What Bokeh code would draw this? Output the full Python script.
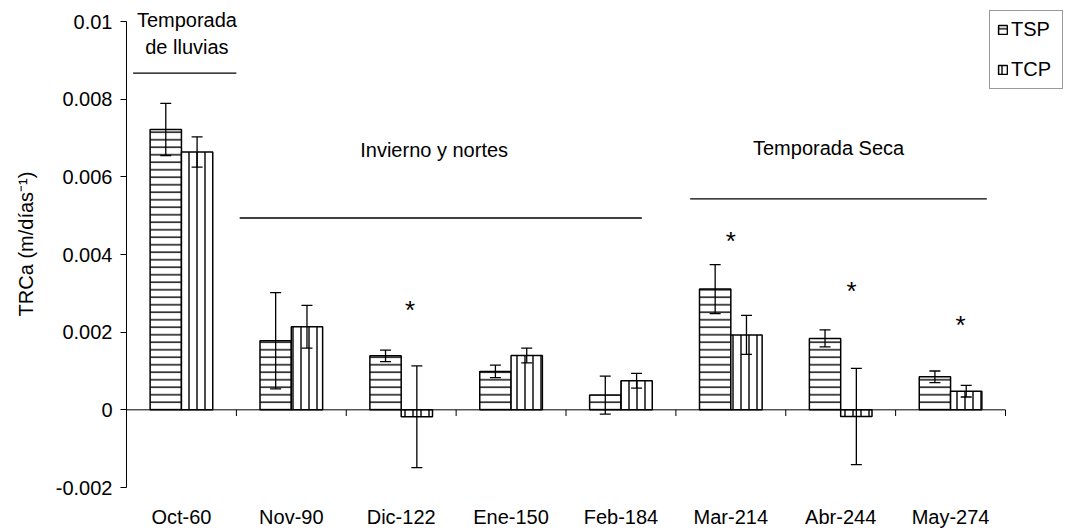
import numpy as np
from bokeh.plotting import figure
from bokeh.models import (ColumnDataSource, Range1d, FixedTicker, Whisker, TeeHead,
                          Legend, LegendItem)
from bokeh.core.properties import value
from bokeh.embed import file_html
from bokeh.resources import INLINE

# ---------------- data ----------------
categories = ["Oct-60", "Nov-90", "Dic-122", "Ene-150", "Feb-184", "Mar-214", "Abr-244", "May-274"]
tsp = [0.00722, 0.00178, 0.00139, 0.00099, 0.00038, 0.00311, 0.00184, 0.00085]
tsp_err = [0.00067, 0.00124, 0.00015, 0.00016, 0.00049, 0.00063, 0.00022, 0.00015]
tcp = [0.00664, 0.00214, -0.00018, 0.00140, 0.00075, 0.00193, -0.00017, 0.00048]
tcp_err = [0.00039, 0.00055, 0.00131, 0.00019, 0.00019, 0.00050, 0.00124, 0.00015]

y_ticks = [-0.002, 0.0, 0.002, 0.004, 0.006, 0.008, 0.01]
y_tick_labels = ["-0.002", "0", "0.002", "0.004", "0.006", "0.008", "0.01"]

season_texts = ["Temporada", "de lluvias", "Invierno y nortes", "Temporada Seca"]
season_text_x = [0.55, 0.55, 2.80, 6.39]
season_text_y = [0.010040, 0.009345, 0.006695, 0.006740]
season_line_x0 = [0.06, 1.03, 5.13]
season_line_x1 = [1.00, 4.69, 7.83]
season_line_y = [0.00867, 0.00494, 0.00543]

star_categories = ["Dic-122", "Mar-214", "Abr-244", "May-274"]
star_offset = [0.08, 0.0, 0.10, 0.09]
star_y = [0.00258, 0.00435, 0.00306, 0.00219]

# ---------------- figure ----------------
FONT = "Liberation Sans"
FS = "20px"
n = len(categories)
bar_w = 0.285
centers = np.arange(n) + 0.5
bounds = np.arange(n + 1)

# frame runs to the right/top edges so the legend is not clipped;
# the category axis itself spans 0..n (879 px of a 940 px frame)
x_end = n * 940 / 879
y_end = y_ticks[-1] + 21 * (y_ticks[-1] - y_ticks[0]) / 466

p = figure(width=1066, height=531, output_backend="svg", toolbar_location=None,
           x_range=Range1d(0, x_end), y_range=Range1d(y_ticks[0], y_end),
           min_border_left=126, min_border_right=0, min_border_top=0, min_border_bottom=44)
p.outline_line_color = None
p.xgrid.visible = False
p.ygrid.visible = False
p.background_fill_color = "white"
p.border_fill_color = "white"

src_tsp = ColumnDataSource(dict(x=centers - bar_w / 2, top=tsp,
                                upper=np.array(tsp) + np.array(tsp_err),
                                lower=np.array(tsp) - np.array(tsp_err)))
src_tcp = ColumnDataSource(dict(x=centers + bar_w / 2, top=tcp,
                                upper=np.array(tcp) + np.array(tcp_err),
                                lower=np.array(tcp) - np.array(tcp_err)))

r_tsp = p.vbar(x="x", top="top", bottom=0, width=bar_w, source=src_tsp,
               fill_color="white", line_color="black", line_width=1.5,
               hatch_pattern="horizontal_line", hatch_scale=7.5, hatch_weight=1.4,
               hatch_color="black")
r_tcp = p.vbar(x="x", top="top", bottom=0, width=bar_w, source=src_tcp,
               fill_color="white", line_color="black", line_width=1.5,
               hatch_pattern="vertical_line", hatch_scale=8, hatch_weight=1.4,
               hatch_color="black")

# zero line (category axis) and category boundary ticks
p.segment(x0=[bounds[0]], x1=[bounds[-1]], y0=[0], y1=[0], line_color="black", line_width=1)
p.segment(x0=bounds, x1=bounds, y0=0, y1=-0.00016, line_color="black", line_width=1)

for src in (src_tsp, src_tcp):
    w = Whisker(source=src, base="x", upper="upper", lower="lower",
                line_color="black", line_width=1.3, level="annotation",
                upper_head=TeeHead(size=11, line_color="black", line_width=1.3),
                lower_head=TeeHead(size=11, line_color="black", line_width=1.3))
    p.add_layout(w)

# season annotations
p.segment(x0=season_line_x0, x1=season_line_x1, y0=season_line_y, y1=season_line_y,
          line_color="black", line_width=1.3)
p.text(x=season_text_x, y=season_text_y, text=season_texts, text_align="center",
       text_baseline="alphabetic", text_font=value(FONT), text_font_size=FS,
       text_color="black")

# significance stars
star_x = [categories.index(c) + 0.5 + o for c, o in zip(star_categories, star_offset)]
p.text(x=star_x, y=star_y, text=["*"] * len(star_x), text_align="center",
       text_baseline="alphabetic", text_font=value(FONT), text_font_size="26px",
       text_color="black")

# axes
p.yaxis.ticker = FixedTicker(ticks=y_ticks)
p.yaxis.bounds = (y_ticks[0], y_ticks[-1])
p.yaxis.major_label_overrides = {float(t): l for t, l in zip(y_ticks, y_tick_labels)}
p.yaxis.axis_label = "TRCa (m/días\u207b\u00b9)"
p.yaxis.axis_label_text_font = FONT
p.yaxis.axis_label_text_font_size = FS
p.yaxis.axis_label_text_font_style = "normal"
p.yaxis.axis_label_text_color = "black"
p.yaxis.axis_label_standoff = 16
p.yaxis.major_label_text_font = FONT
p.yaxis.major_label_text_font_size = FS
p.yaxis.major_label_text_color = "black"
p.yaxis.major_label_standoff = 8
p.yaxis.major_tick_out = 6
p.yaxis.major_tick_in = 0
p.yaxis.minor_tick_line_color = None
p.yaxis.axis_line_color = "black"
p.yaxis.major_tick_line_color = "black"

p.xaxis.ticker = FixedTicker(ticks=list(centers))
p.xaxis.major_label_overrides = {float(c): name for c, name in zip(centers, categories)}
p.xaxis.major_label_text_font = FONT
p.xaxis.major_label_text_font_size = FS
p.xaxis.major_label_text_color = "black"
p.xaxis.major_label_standoff = 18
p.xaxis.major_tick_out = 0
p.xaxis.major_tick_in = 0
p.xaxis.minor_tick_line_color = None
p.xaxis.axis_line_color = None

legend = Legend(items=[LegendItem(label="TSP", renderers=[r_tsp]),
                       LegendItem(label="TCP", renderers=[r_tcp])],
                location=(863, 398), orientation="vertical",
                glyph_width=11, glyph_height=11, label_standoff=3,
                label_text_font=FONT, label_text_font_size=FS,
                label_text_color="black",
                label_height=18, label_width=44, spacing=17, padding=7, margin=0,
                border_line_color="#333333", border_line_width=1,
                background_fill_color="white", background_fill_alpha=1)
p.add_layout(legend)

open("out.html", "w").write(file_html(p, INLINE))
